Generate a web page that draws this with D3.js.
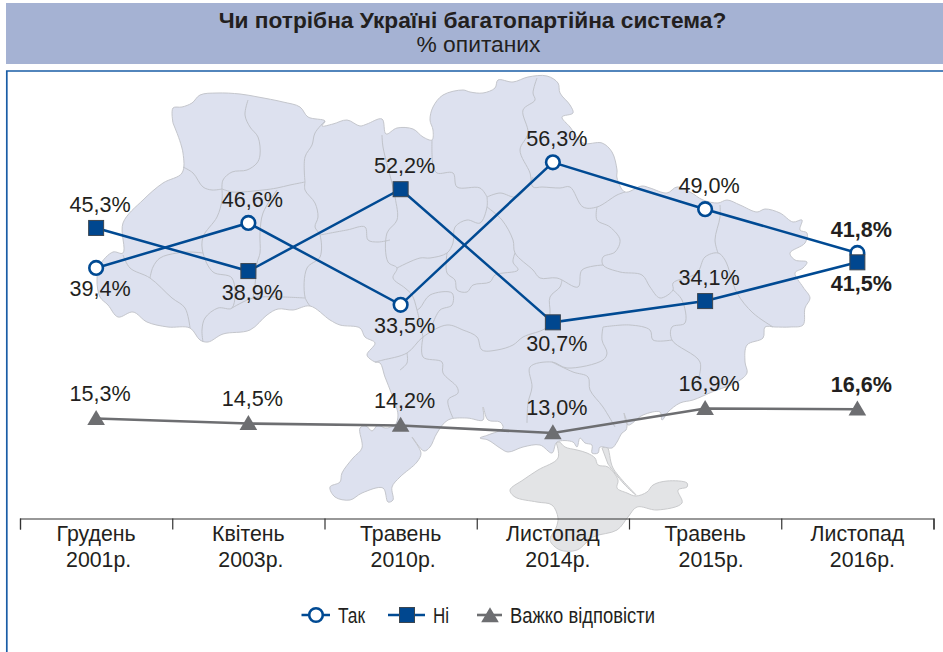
<!DOCTYPE html>
<html><head><meta charset="utf-8">
<script src="https://cdn.jsdelivr.net/npm/d3@7"></script>
<style>html,body{margin:0;padding:0;background:#fff;overflow:hidden}svg{display:block}text{font-family:"Liberation Sans",Arial,sans-serif;fill:#231f20}</style>
</head><body><svg id="c" width="943" height="652"></svg>
<script>
const categories = ["Грудень","Квітень","Травень","Листопад","Травень","Листопад"];
const years = ["2001р.","2003р.","2010р.","2014р.","2015р.","2016р."];
// Series are plotted where the picture draws them; the printed figures are in the *Labels arrays.
// A few markers in the picture sit off their printed value (last "Ні" is drawn near 40.3, labelled 41,5%).
const yesValues = [39.4,46.6,33.5,56.3,48.8,41.8];
const noValues = [45.8,38.9,52.0,30.7,34.1,40.3];
const hardValues = [15.3,14.5,14.2,13.0,16.9,16.8];
const yesLabels = ["39,4%","46,6%","33,5%","56,3%","49,0%","41,8%"];
const noLabels = ["45,3%","38,9%","52,2%","30,7%","34,1%","41,5%"];
const hardLabels = ["15,3%","14,5%","14,2%","13,0%","16,9%","16,6%"];
const yesAbove = [false,true,false,true,true,true];
const noAbove = [true,false,true,false,true,false];
const boldLabels = [false,false,false,false,false,true];
const legendNames = ["Так","Ні","Важко відповісти"];
const titleText = "Чи потрібна Україні багатопартійна система?";
const subtitleText = "% опитаних";

// Background map
const mapOutline = [[173,123],[173,108],[182,107],[192,103],[200,95],[217,93],[240,94],[258,97],[283,102],[300,107],[308,117],[325,121],[322,126],[333,124],[347,120],[360,126],[367,124],[382,119],[386,134],[397,128],[413,129],[423,137],[432,140],[433,130],[430,120],[433,107],[443,95],[463,90],[470,92],[483,93],[495,88],[498,80],[513,82],[528,77],[547,76],[558,83],[560,93],[570,105],[573,113],[562,117],[570,127],[583,143],[602,143],[612,152],[617,170],[617,178],[625,192],[642,186],[650,188],[667,193],[677,187],[690,192],[703,200],[718,203],[727,200],[740,205],[757,212],[765,209],[780,213],[793,222],[802,220],[800,230],[807,233],[805,243],[790,253],[795,260],[807,262],[803,268],[795,273],[803,287],[810,298],[805,308],[803,325],[790,327],[775,327],[765,327],[763,338],[747,345],[745,362],[747,373],[737,382],[712,392],[693,400],[680,403],[668,412],[662,420],[660,412],[643,415],[628,425],[624,413],[627,423],[626,430],[622,433],[617,442],[612,448],[600,447],[598,453],[592,453],[592,445],[585,443],[580,438],[577,447],[573,442],[557,442],[552,453],[540,445],[523,447],[508,452],[500,448],[488,440],[480,438],[488,435],[503,428],[500,422],[488,420],[483,407],[483,420],[467,418],[448,420],[437,433],[430,447],[424,451],[412,437],[421,453],[417,462],[400,477],[392,487],[393,500],[388,502],[383,488],[362,493],[350,500],[335,497],[330,487],[340,482],[342,473],[353,458],[362,448],[360,428],[366,426],[372,431],[378,425],[385,428],[395,425],[398,415],[392,395],[385,377],[380,363],[375,362],[367,355],[375,343],[365,337],[360,328],[340,325],[330,320],[310,306],[293,310],[278,309],[267,315],[250,330],[223,334],[208,342],[200,340],[190,328],[168,327],[147,322],[133,312],[118,317],[108,305],[100,297],[97,280],[100,265],[113,252],[123,253],[123,223],[143,200],[163,183],[182,173],[183,153],[177,133]];
const crimea = [[556,442],[558,458],[538,470],[523,480],[510,490],[515,497],[537,502],[552,505],[558,518],[556,528],[550,540],[560,550],[577,550],[593,537],[617,530],[628,517],[637,507],[657,510],[682,503],[678,490],[687,487],[687,483],[667,481],[653,485],[647,492],[636,496],[627,493],[617,488],[618,480],[608,467],[598,465],[595,458],[587,453],[577,450],[565,447],[560,442]];
const arabat = [[602,448],[607,447],[613,468],[636,495],[624,484],[608,464]];
const borders = [
 [[248,100],[245,115],[250,127],[258,137],[260,155],[257,163],[247,170],[232,172],[223,180],[222,190]],
 [[183,167],[193,173],[203,187],[212,190],[222,189]],
 [[325,121],[315,133],[312,145],[305,157],[305,182]],
 [[222,189],[233,192],[263,190],[277,188],[290,185],[305,182]],
 [[305,182],[305,190],[315,203],[318,217],[315,227],[320,235],[320,257],[307,268],[305,297],[310,306]],
 [[222,190],[222,200],[217,217],[203,237],[203,253],[213,272],[232,278],[232,308],[218,308],[205,318],[202,330],[203,342]],
 [[232,308],[253,298],[280,297],[305,298]],
 [[277,190],[263,213],[260,233],[260,253],[257,263],[255,285],[253,298]],
 [[150,278],[153,267],[160,258],[177,253],[190,252],[203,253]],
 [[123,255],[130,268],[150,278],[172,298],[185,308],[190,328]],
 [[320,235],[347,230],[365,227],[368,240],[378,242],[390,240]],
 [[382,135],[383,147],[395,197],[397,220],[387,233],[388,262],[397,268],[393,278],[405,288],[412,295],[417,310],[423,337]],
 [[432,140],[433,165],[437,173],[453,173],[457,187],[480,188],[487,197]],
 [[397,268],[420,258],[430,258],[447,253],[453,243],[455,227],[467,220],[480,223],[487,207],[487,197]],
 [[537,78],[533,93],[535,100],[523,110],[528,133],[520,150],[530,173],[533,187],[542,187],[560,188],[570,187],[583,207],[597,207],[617,195],[625,192]],
 [[487,197],[500,193],[517,197],[533,177]],
 [[487,207],[502,220],[513,240],[515,253],[533,270],[540,278],[557,278],[578,287],[582,270],[603,265]],
 [[597,207],[597,220],[610,227],[620,240],[615,252],[603,257],[603,265],[620,272],[642,275],[650,287],[660,298],[673,290],[673,283],[697,273],[705,257],[718,253],[725,260],[737,293],[753,313],[773,327]],
 [[720,205],[720,217],[715,240],[718,253]],
 [[673,290],[682,300],[685,323],[672,327],[672,340],[700,362],[697,383]],
 [[603,327],[630,325],[650,330],[653,340],[672,340]],
 [[603,327],[602,340],[607,353],[603,360],[567,368],[552,362],[530,367],[532,387],[528,403],[527,423]],
 [[562,280],[560,287],[550,297],[550,313],[547,327],[523,337],[513,345],[497,350],[482,350],[477,337],[463,330],[447,325],[423,337],[407,353],[383,360],[375,362]],
 [[552,362],[573,372],[588,377],[590,390],[603,407],[615,427]],
 [[423,337],[423,357],[442,362],[443,373],[457,387],[458,393],[448,400],[453,418]],
 [[407,353],[407,363],[400,370]],
 [[433,323],[440,310],[452,305],[452,293],[430,295],[420,308],[417,310]],
 [[447,253],[447,273],[455,280],[457,290],[467,292],[473,285],[490,282],[495,275],[518,270],[513,262],[515,253]]
];

const svg = d3.select("#c");
const frameBlue = "#1a5da6", lineBlue = "#004a93", markBlue = "#00478f", grey = "#6d6e71";

svg.append("rect").attr("x",6).attr("y",3).attr("width",937).attr("height",61).attr("fill","#a5b2d3");
svg.append("path").attr("d","M6.8,652V71H943").attr("fill","none").attr("stroke",frameBlue).attr("stroke-width",1.7);
svg.append("text").attr("x",472.5).attr("y",28).attr("text-anchor","middle").attr("font-size",22.7).attr("font-weight","bold").text(titleText);
svg.append("text").attr("x",478.5).attr("y",52.3).attr("text-anchor","middle").attr("font-size",22.8).text(subtitleText);

const mapLine = d3.line().curve(d3.curveCatmullRom.alpha(0.5));
const gm = svg.append("g");
gm.append("path").attr("d",mapLine(crimea)+"Z").attr("fill","#e3e4e6").attr("stroke","#c9cacc").attr("stroke-width",1);
gm.append("path").attr("d",mapLine(arabat)+"Z").attr("fill","#e3e4e6").attr("stroke","#c9cacc").attr("stroke-width",1);
gm.append("path").attr("d",mapLine(mapOutline)+"Z").attr("fill","#dde1ef").attr("stroke","#c4c6cc").attr("stroke-width",1);
gm.selectAll(".b").data(borders).join("path").attr("d",d=>mapLine(d)).attr("fill","none").attr("stroke","#c0c3ca").attr("stroke-width",1);

// Scales
const x = d3.scaleBand().domain(d3.range(categories.length)).range([20,933.5]).paddingInner(0).paddingOuter(0);
const cx = i => x(i)+x.bandwidth()/2;
const y = d3.scaleLinear().domain([0,60]).range([514.2,139.2]);

// Axis: ticks at the band edges
const edge = d3.scaleLinear().domain([0,categories.length]).range(x.range());
const axis = svg.append("g").attr("transform","translate(0,518.5)")
  .call(d3.axisBottom(edge).tickValues(d3.range(categories.length+1)).tickSize(11).tickSizeOuter(11).tickFormat(""));
axis.selectAll("path,line").attr("stroke","#333").attr("stroke-width",1.2);

const catSize = 21.3;
const yearShift = [2.5,2.5,2.5,5,6,5];
svg.append("g").selectAll("text").data(categories).join("text").attr("x",(d,i)=>cx(i)).attr("y",541).attr("text-anchor","middle").attr("font-size",catSize).text(d=>d);
svg.append("g").selectAll("text").data(years).join("text").attr("x",(d,i)=>cx(i)+yearShift[i]).attr("y",566.7).attr("text-anchor","middle").attr("font-size",catSize).text(d=>d);

const line = d3.line().x((d,i)=>cx(i)).y(d=>y(d));
svg.append("path").attr("d",line(hardValues)).attr("fill","none").attr("stroke",grey).attr("stroke-width",2.6);
svg.append("path").attr("d",line(yesValues)).attr("fill","none").attr("stroke",lineBlue).attr("stroke-width",2.5);
svg.append("path").attr("d",line(noValues)).attr("fill","none").attr("stroke",lineBlue).attr("stroke-width",2.5);

const tri = {draw(ctx){ctx.moveTo(0,-8.7);ctx.lineTo(8.8,6.3);ctx.lineTo(-8.8,6.3);ctx.closePath();}};
function circle(g,cxv,cyv){g.append("circle").attr("cx",cxv).attr("cy",cyv).attr("r",6.8).attr("fill","#fff").attr("stroke",lineBlue).attr("stroke-width",2.6);}
function square(g,cxv,cyv){g.append("rect").attr("x",cxv-7.5).attr("y",cyv-7.5).attr("width",15).attr("height",15).attr("fill",markBlue).attr("stroke","#3c4650").attr("stroke-width",1);}
function triangle(g,cxv,cyv){g.append("path").attr("d",d3.symbol().type(tri)()).attr("transform",`translate(${cxv},${cyv})`).attr("fill",grey);}

const marks = svg.append("g");
hardValues.forEach((v,i)=>triangle(marks,cx(i),y(v)));
yesValues.forEach((v,i)=>circle(marks,cx(i),y(v)));
noValues.forEach((v,i)=>square(marks,cx(i),y(v)));

const labelDx = 4, aboveDy = -16, belowDy = 28.5, hardDy = -17.5, labelSize = 21.6;
function labels(vals,texts,dyFn){
  svg.append("g").selectAll("text").data(vals).join("text")
    .attr("x",(d,i)=>cx(i)+labelDx).attr("y",(d,i)=>y(d)+dyFn(i))
    .attr("text-anchor","middle").attr("font-size",labelSize)
    .attr("font-weight",(d,i)=>boldLabels[i]?"bold":"normal").text((d,i)=>texts[i]);
}
labels(yesValues,yesLabels,i=>yesAbove[i]?aboveDy:belowDy);
labels(noValues,noLabels,i=>noAbove[i]?aboveDy:belowDy);
labels(hardValues,hardLabels,()=>hardDy);

// Legend
const legendY = 615;
const lg = svg.append("g");
lg.append("path").attr("d",`M301.5,${legendY}H330`).attr("stroke",lineBlue).attr("stroke-width",2.5);
circle(lg,316,legendY);
lg.append("path").attr("d",`M388,${legendY}H425`).attr("stroke",lineBlue).attr("stroke-width",2.5);
square(lg,407,legendY);
lg.append("path").attr("d",`M477,${legendY}H502`).attr("stroke",grey).attr("stroke-width",2.6);
triangle(lg,490,616);
const legX = [338,433,510], legW = [27,16,145];
lg.selectAll("text").data(legendNames).join("text").attr("x",(d,i)=>legX[i]).attr("y",622.5)
  .attr("font-size",21.5).attr("textLength",(d,i)=>legW[i]).attr("lengthAdjust","spacingAndGlyphs").text(d=>d);
</script></body></html>
